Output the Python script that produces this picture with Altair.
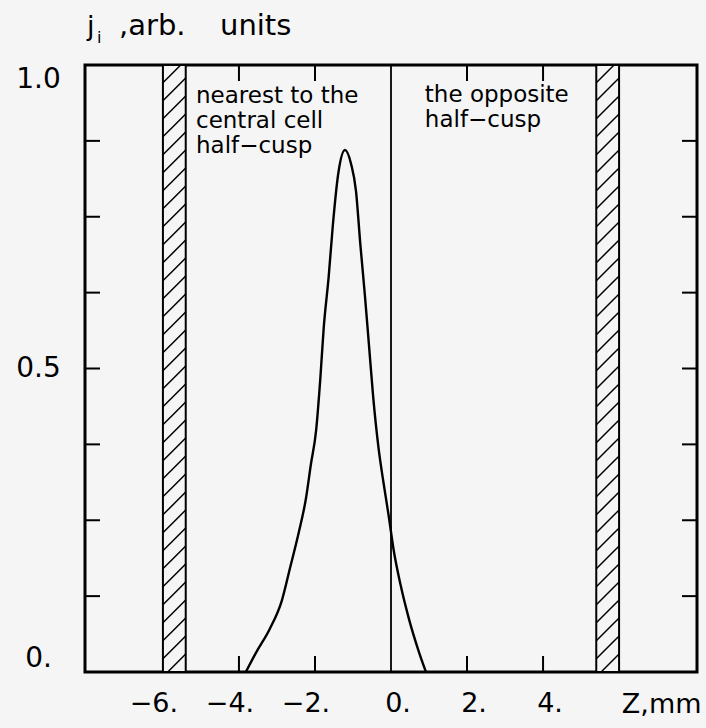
import altair as alt
import numpy as np
import pandas as pd

# ---- data ----
z_mm = [-3.82, -3.55, -3.19, -2.88, -2.65, -2.43, -2.24, -2.11, -1.97, -1.86, -1.77,
        -1.64, -1.53, -1.39, -1.21, -1.05, -0.92, -0.81, -0.69, -0.58, -0.47, -0.33,
        -0.20, -0.06, 0.07, 0.25, 0.47, 0.74, 0.92]
j_i = [0.0, 0.032, 0.071, 0.116, 0.173, 0.229, 0.285, 0.341, 0.398, 0.483, 0.567,
       0.651, 0.736, 0.820, 0.860, 0.837, 0.792, 0.707, 0.623, 0.539, 0.454, 0.370,
       0.313, 0.257, 0.201, 0.144, 0.088, 0.032, 0.0]

bar_start = [-6.0, 5.4]
bar_end = [-5.4, 6.0]
zero_line = [0.0]

x_tick_vals = [-4, -2, 2, 4]
y_tick_vals = [0.125, 0.25, 0.375, 0.5, 0.625, 0.75, 0.875]
x_label_vals = [-6, -4, -2, 0, 2, 4]
y_label_vals = [0, 0.5, 1.0]

title_parts = ["j", "i", ",arb.", "units"]
note_left = "nearest to the\ncentral cell\nhalf\u2212cusp"
note_right = "the opposite\nhalf\u2212cusp"
x_title = "Z,mm"

# ---- layout ----
W, H = 612, 607
X_DOMAIN = [-8.05, 8.05]
Y_DOMAIN = [0, 1]
FONT = "DejaVu Sans"
PX_PER_X = W / (X_DOMAIN[1] - X_DOMAIN[0])

xs = alt.Scale(domain=X_DOMAIN, nice=False, zero=False)
ys = alt.Scale(domain=Y_DOMAIN, nice=False, zero=False)

# hatch segments (decoration) inside each bar, at 45 degrees in pixel space
def hatch_segments(x0, x1, step_px=18.0):
    rise = (x1 - x0) * PX_PER_X / H
    step = step_px / H
    rows = []
    for y in np.arange(-rise, 1.0, step):
        xa, ya, xb, yb = x0, y, x1, y + rise
        if ya < 0:
            xa = x0 + (0 - y) / rise * (x1 - x0)
            ya = 0.0
        if yb > 1:
            xb = x0 + (1 - y) / rise * (x1 - x0)
            yb = 1.0
        if ya < yb:
            rows.append({"xa": xa, "ya": ya, "xb": xb, "yb": yb})
    return rows

hatch_rows = []
for a, b in zip(bar_start, bar_end):
    hatch_rows += hatch_segments(a, b)
hatch_df = pd.DataFrame(hatch_rows)

curve_df = pd.DataFrame({"z": z_mm, "j": j_i})
bars_df = pd.DataFrame({"a": bar_start, "b": bar_end})
zero_df = pd.DataFrame({"z": zero_line})
xt_df = pd.DataFrame({"z": x_tick_vals})
yt_df = pd.DataFrame({"v": y_tick_vals})

def fmt_x(v):
    return ("\u2212" if v < 0 else "") + str(abs(v)) + "."

xl_df = pd.DataFrame({"z": x_label_vals, "t": [fmt_x(v) for v in x_label_vals]})

x_axis = alt.Axis(
    values=x_label_vals, labels=False,
    domain=False, ticks=False, tickSize=0, grid=False,
    title=x_title, titleFont=FONT, titleFontSize=27, titleFontWeight="normal",
    titleColor="black", titleX=W + 4, titleY=40, titleAlign="right",
    titleBaseline="alphabetic",
)
y_axis = alt.Axis(
    values=y_label_vals,
    labelExpr="datum.value == 0 ? '0.' : format(datum.value, '.1f')",
    domain=False, ticks=False, tickSize=0, grid=False,
    labelFont=FONT, labelFontSize=28, labelColor="black",
    labelAlign="center", labelPadding=47, labelFlush=True,
    title=None,
)

curve = alt.Chart(curve_df).mark_line(color="black", strokeWidth=2.4, interpolate="monotone").encode(
    x=alt.X("z:Q", scale=xs, axis=x_axis),
    y=alt.Y("j:Q", scale=ys, axis=y_axis),
)

bars = alt.Chart(bars_df).mark_rect(fill="#f5f5f5", stroke="black", strokeWidth=2).encode(
    x=alt.X("a:Q", scale=xs, axis=x_axis), x2="b:Q",
    y=alt.value(0), y2=alt.value(H),
)

hatch = alt.Chart(hatch_df).mark_rule(color="black", strokeWidth=1.5).encode(
    x=alt.X("xa:Q", scale=xs, axis=x_axis), x2="xb:Q",
    y=alt.Y("ya:Q", scale=ys, axis=y_axis), y2="yb:Q",
)

zero = alt.Chart(zero_df).mark_rule(color="black", strokeWidth=1.8).encode(
    x=alt.X("z:Q", scale=xs, axis=x_axis), y=alt.value(0), y2=alt.value(H),
)

TX = 16
TY = 15
xt_bottom = alt.Chart(xt_df).mark_rule(color="black", strokeWidth=2).encode(
    x=alt.X("z:Q", scale=xs, axis=x_axis), y=alt.value(H), y2=alt.value(H - TX))
xt_top = alt.Chart(xt_df).mark_rule(color="black", strokeWidth=2).encode(
    x=alt.X("z:Q", scale=xs, axis=x_axis), y=alt.value(0), y2=alt.value(TX))
yt_left = alt.Chart(yt_df).mark_rule(color="black", strokeWidth=2).encode(
    y=alt.Y("v:Q", scale=ys, axis=y_axis), x=alt.value(0), x2=alt.value(TY))
yt_right = alt.Chart(yt_df).mark_rule(color="black", strokeWidth=2).encode(
    y=alt.Y("v:Q", scale=ys, axis=y_axis), x=alt.value(W), x2=alt.value(W - TY))

# x tick labels: negatives sit a little left of their value, positives a little right
xl_neg = alt.Chart(xl_df).transform_filter("datum.z < 0").mark_text(
    align="center", baseline="alphabetic", font=FONT, fontSize=27, color="black", dx=-9,
).encode(x=alt.X("z:Q", scale=xs, axis=x_axis), y=alt.value(H + 40), text="t:N")
xl_pos = alt.Chart(xl_df).transform_filter("datum.z >= 0").mark_text(
    align="center", baseline="alphabetic", font=FONT, fontSize=27, color="black", dx=7,
).encode(x=alt.X("z:Q", scale=xs, axis=x_axis), y=alt.value(H + 40), text="t:N")

notes_df = pd.DataFrame({
    "z": [-5.13, 0.89],
    "j": [0.937, 0.939],
    "t": [note_left, note_right],
})
notes = alt.Chart(notes_df).mark_text(
    align="left", baseline="alphabetic", font=FONT, fontSize=23,
    lineBreak="\n", lineHeight=25, color="black",
).encode(
    x=alt.X("z:Q", scale=xs, axis=x_axis), y=alt.Y("j:Q", scale=ys, axis=y_axis), text="t:N",
)

def title_piece(text, px, py, size):
    return alt.Chart(pd.DataFrame({"t": [text]})).mark_text(
        align="left", baseline="alphabetic", font=FONT, fontSize=size, color="black",
    ).encode(x=alt.value(px), y=alt.value(py), text="t:N")

t1 = title_piece(title_parts[0], 2, -30, 27)
t2 = title_piece(title_parts[1], 12, -22, 16)
t3 = title_piece(title_parts[2], 34, -30, 29)
t4 = title_piece(title_parts[3], 135, -30, 29)

chart = alt.layer(
    curve, bars, hatch, zero, xt_bottom, xt_top, yt_left, yt_right,
    xl_neg, xl_pos, notes, t1, t2, t3, t4
).properties(
    width=W, height=H,
    padding={"left": 85, "top": 65, "right": 9, "bottom": 56},
    autosize=alt.AutoSizeParams(type="none"),
    background="#f5f5f5",
).configure_view(stroke="black", strokeWidth=3)

chart.save("out.html", embed_options={"renderer": "svg", "actions": False})
